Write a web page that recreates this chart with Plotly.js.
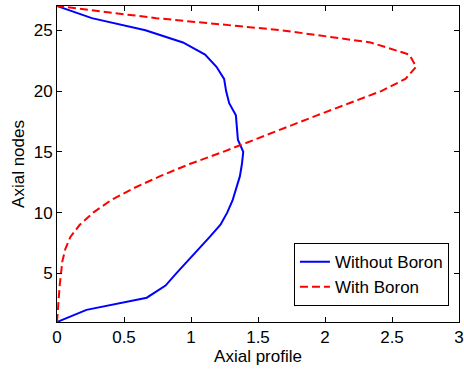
<!DOCTYPE html>
<html>
<head>
<meta charset="utf-8">
<script src="https://cdn.plot.ly/plotly-3.0.1.min.js"></script>
<style>html,body{margin:0;padding:0;background:#fff;}#chart{width:464px;height:370px;}</style>
</head>
<body>
<div id="chart"></div>
<script>
const nodes = [1,2,3,4,5,6,7,8,9,10,11,12,13,14,15,16,17,18,19,20,21,22,23,24,25,26,27];
const withoutBoron = [0,0.22,0.67,0.81,0.89,0.975,1.06,1.14,1.22,1.27,1.31,1.34,1.365,1.38,1.39,1.35,1.34,1.335,1.285,1.262,1.247,1.19,1.105,0.94,0.66,0.26,0];
const withBoron = [0,0.005,0.01,0.02,0.03,0.04,0.062,0.10,0.17,0.27,0.40,0.57,0.77,0.99,1.24,1.47,1.70,1.94,2.18,2.42,2.60,2.68,2.63,2.34,1.68,0.74,0];
const xTicks = [0,0.5,1,1.5,2,2.5,3];
const xTickText = ['0','0.5','1','1.5','2','2.5','3'];
const yTicks = [5,10,15,20,25];

const font = {family:'Liberation Sans, Arial, sans-serif', size:17, color:'#000'};
const traces = [
  {x: withoutBoron, y: nodes, type:'scatter', mode:'lines', name:'Without Boron',
   line:{color:'#0000ff', width:2}},
  {x: withBoron, y: nodes, type:'scatter', mode:'lines', name:'With Boron',
   line:{color:'#ff0000', width:2, dash:'8px,4px'}}
];
const axisCommon = {showgrid:false, zeroline:false, showline:true, linecolor:'#000', linewidth:1,
  mirror:'ticks', ticks:'inside', ticklen:5, tickcolor:'#000', tickfont:font};
const layout = {
  width:464, height:370,
  margin:{l:57, r:5, t:6, b:48},
  paper_bgcolor:'#fff', plot_bgcolor:'#fff',
  font:font,
  xaxis: Object.assign({}, axisCommon, {range:[0,3], tickvals:xTicks, ticktext:xTickText,
    title:{text:'Axial profile', font:font, standoff:2}}),
  yaxis: Object.assign({}, axisCommon, {range:[1,27], tickvals:yTicks,
    title:{text:'Axial nodes', font:font, standoff:4}}),
  showlegend:true,
  legend:{x:0.975, y:0.05, xanchor:'right', yanchor:'bottom', bgcolor:'#fff',
    bordercolor:'#000', borderwidth:1, font:font, tracegroupgap:0}
};
Plotly.newPlot('chart', traces, layout, {staticPlot:true, displayModeBar:false});
</script>
</body>
</html>
